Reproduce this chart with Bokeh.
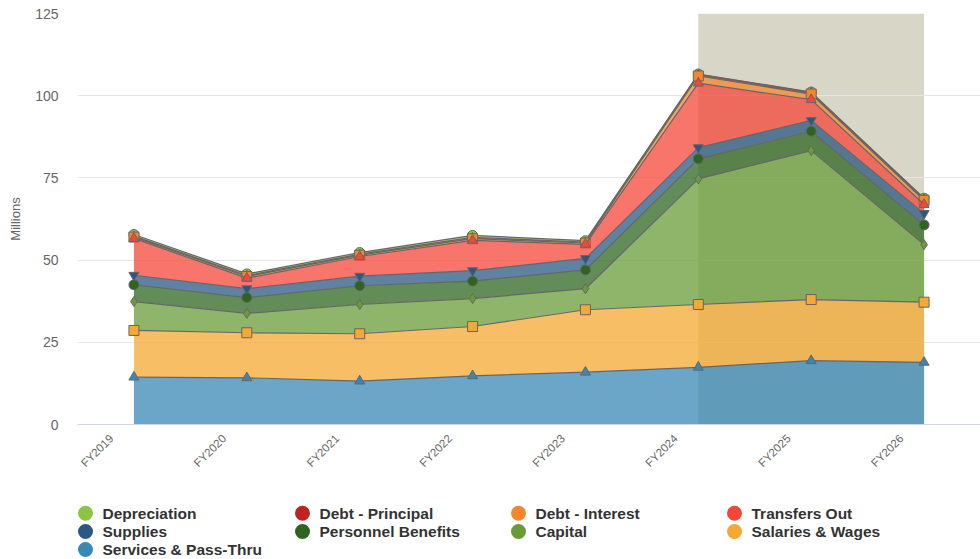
import math
import numpy as np
from bokeh.plotting import figure
from bokeh.models import Range1d, BoxAnnotation, ColumnDataSource, FixedTicker
from bokeh.layouts import column
from bokeh.embed import file_html
from bokeh.resources import INLINE
from bokeh.core.properties import value

# ---------------- data ----------------
categories = ["FY2019", "FY2020", "FY2021", "FY2022", "FY2023", "FY2024", "FY2025", "FY2026"]
projected_start = "FY2024"
projected_end = "FY2026"
y_ticks = [0, 25, 50, 75, 100, 125]

# legend / stacking order (first = top of stack)
series_names = ["Depreciation", "Debt - Principal", "Debt - Interest", "Transfers Out",
                "Supplies", "Personnel Benefits", "Capital", "Salaries & Wages",
                "Services & Pass-Thru"]

depreciation = [0.5, 0.5, 0.5, 0.6, 0.4, 0.1, 0.1, 0.1]
debt_principal = [0.3, 0.3, 0.3, 0.4, 0.3, 0.5, 0.5, 0.5]
debt_interest = [0.4, 0.5, 0.4, 0.5, 0.4, 2.2, 1.7, 1.3]
transfers_out = [11.2, 3.2, 6.0, 9.2, 4.3, 19.6, 6.3, 2.7]
supplies = [2.9, 2.7, 2.9, 3.2, 3.5, 3.4, 3.3, 3.5]
personnel_benefits = [5.1, 4.8, 5.7, 5.3, 5.7, 6.1, 5.9, 6.0]
capital = [8.8, 5.9, 8.9, 8.5, 6.4, 38.2, 45.3, 17.5]
salaries_wages = [14.2, 13.7, 14.4, 15.0, 19.0, 19.1, 18.6, 18.3]
services_pass_thru = [14.4, 14.2, 13.2, 14.8, 15.9, 17.4, 19.4, 18.9]

series_values = [depreciation, debt_principal, debt_interest, transfers_out, supplies,
                 personnel_benefits, capital, salaries_wages, services_pass_thru]

colors = ["#8cc444", "#c0221f", "#f5862b", "#f4473a", "#2a5783",
          "#2d6520", "#699c39", "#f5a833", "#3987b5"]
markers = ["circle", "diamond", "square", "triangle", "inverted_triangle",
           "circle", "diamond", "square", "triangle"]

FONT = "Liberation Sans"
W = 980
LEFT = 77
LABEL_SHIFT = 0.2   # rotated category labels end a little left of their category

# category slots: each category is centred in a unit-wide slot
n = len(categories)
xs = [categories.index(c) + 0.5 for c in categories]

# ---------------- main chart ----------------
p = figure(x_range=Range1d(0, n), y_range=Range1d(0, 125),
           width=W, height=490, output_backend="svg", toolbar_location=None,
           min_border_left=LEFT, min_border_right=0, min_border_top=13, min_border_bottom=66)
p.outline_line_color = None
p.background_fill_color = "white"
p.xgrid.visible = False
p.ygrid.grid_line_color = "#e6e6e6"
p.ygrid.grid_line_width = 1

p.yaxis.ticker = FixedTicker(ticks=y_ticks)
p.yaxis.axis_line_color = None
p.yaxis.major_tick_line_color = None
p.yaxis.minor_tick_line_color = None
p.yaxis.major_tick_out = 0
p.yaxis.major_tick_in = 0
p.yaxis.minor_tick_out = 0
p.yaxis.major_label_text_font = FONT
p.yaxis.major_label_text_font_size = "14px"
p.yaxis.major_label_text_color = "#666666"
p.yaxis.major_label_standoff = 19
p.yaxis.axis_label = "Millions"
p.yaxis.axis_label_text_font = FONT
p.yaxis.axis_label_text_font_style = "normal"
p.yaxis.axis_label_text_font_size = "13px"
p.yaxis.axis_label_text_color = "#666666"
p.yaxis.axis_label_standoff = 9

label_ticks = [x - LABEL_SHIFT for x in xs]
p.xaxis.ticker = FixedTicker(ticks=label_ticks)
p.xaxis.major_label_overrides = {t: c for t, c in zip(label_ticks, categories)}
p.xaxis.axis_line_color = "#ccd6eb"
p.xaxis.major_tick_line_color = None
p.xaxis.minor_tick_line_color = None
p.xaxis.major_tick_out = 0
p.xaxis.major_tick_in = 0
p.xaxis.minor_tick_out = 0
p.xaxis.minor_tick_in = 0
p.xaxis.major_label_orientation = math.pi / 4
p.xaxis.major_label_text_font = FONT
p.xaxis.major_label_text_font_size = "11.5px"
p.xaxis.major_label_text_color = "#666666"
p.xaxis.major_label_standoff = 12

# projected band
band = BoxAnnotation(left=xs[categories.index(projected_start)],
                     right=xs[categories.index(projected_end)],
                     fill_color="#d8d6c6", fill_alpha=1.0, line_color=None, level="image")
p.add_layout(band)

# cumulative stacking (bottom of stack = last series)
arrs = [np.array(v, dtype=float) for v in series_values]
uppers = []
lowers = []
running = np.zeros(n)
for arr in reversed(arrs):
    lowers.insert(0, running.copy())
    running = running + arr
    uppers.insert(0, running.copy())

for i, name in enumerate(series_names):
    src = ColumnDataSource(dict(x=xs, cat=categories, lower=lowers[i], upper=uppers[i]))
    p.varea(x="x", y1="lower", y2="upper", source=src, fill_color=colors[i], fill_alpha=0.75)
    p.line(x="x", y="upper", source=src, line_color="#666666", line_width=1.2)
    p.scatter(x="x", y="upper", source=src, marker=markers[i], size=10,
              fill_color=colors[i], line_color="#666666", line_width=1)

# ---------------- legend (separate strip, same borders as the chart) ----------------
LH = 69
lf = figure(width=W, height=LH, x_range=Range1d(LEFT, W), y_range=Range1d(LH, 0),
            output_backend="svg", toolbar_location=None,
            min_border_left=LEFT, min_border_right=0, min_border_top=0, min_border_bottom=0)
lf.axis.visible = False
lf.grid.visible = False
lf.outline_line_color = None

col_x = [85, 302, 518, 734]
row_y = [22.7, 41, 59]
lx, ly, lt, lc = [], [], [], []
for i, name in enumerate(series_names):
    lx.append(col_x[i % 4])
    ly.append(row_y[i // 4])
    lt.append(name)
    lc.append(colors[i])
lsrc = ColumnDataSource(dict(x=lx, y=ly, tx=[v + 17 for v in lx], t=lt, c=lc))
lf.scatter(x="x", y="y", source=lsrc, marker="circle", size=15, fill_color="c", line_color=None)
lf.text(x="tx", y="y", text="t", source=lsrc, text_font=value(FONT), text_font_style="bold",
        text_font_size="15.5px", text_color="#333333", text_baseline="middle", text_align="left")

layout = column(p, lf, spacing=0)
open("out.html", "w").write(file_html(layout, INLINE))
